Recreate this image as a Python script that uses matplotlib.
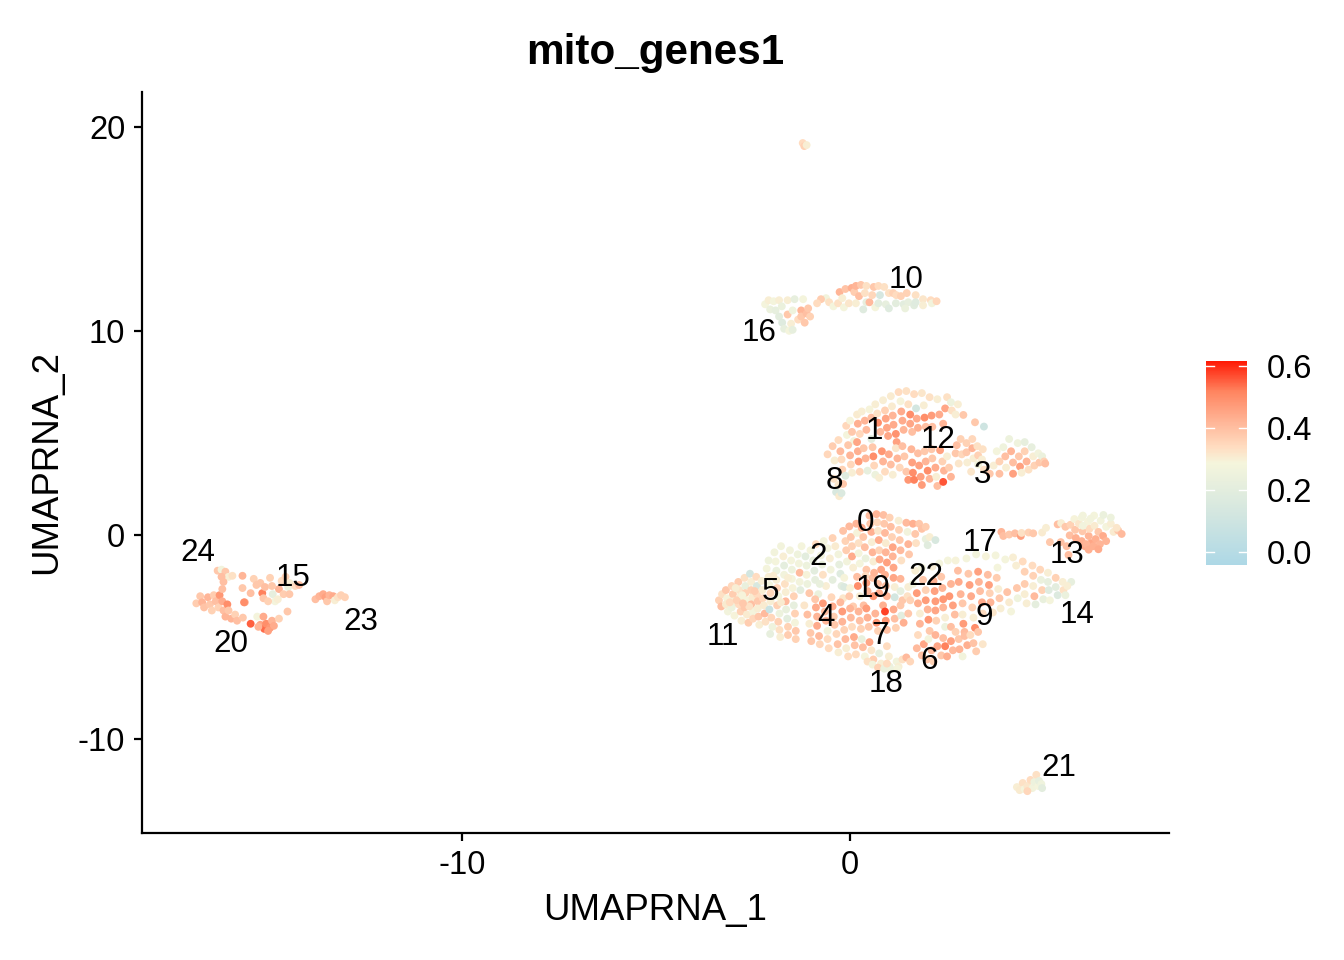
import matplotlib
matplotlib.use("Agg")
import matplotlib.pyplot as plt
from matplotlib.colors import LinearSegmentedColormap

plt.rcParams['font.family'] = ['Liberation Sans', 'DejaVu Sans']

# (UMAP1, UMAP2, value), one list per cluster region
c11 = [(-3.38,-3.2,.36),(-3.3,-2.9,.33),(-3.32,-3.5,.4),(-3.2,-2.7,.38),(-3.17,-3.1,.29),(-3.2,-3.4,.31),(-3.15,-3.75,.27),(-3.05,-2.5,.35),(-3.02,-2.9,.37),(-3.0,-3.25,.3),(-3.05,-3.55,.25),(-2.98,-3.95,.29),(-2.88,-2.3,.37),(-2.86,-2.7,.32),(-2.84,-3.05,.3),(-2.87,-3.4,.34),(-2.82,-3.75,.36),(-2.8,-4.2,.3),(-2.72,-2.1,.33),(-2.7,-2.5,.23),(-2.7,-2.85,.36),(-2.68,-3.2,.29),(-2.72,-3.55,.38),(-2.66,-3.9,.31),(-2.62,-4.3,.37),(-2.58,-1.9,.12),(-2.55,-2.3,.3),(-2.55,-2.7,.36),(-2.52,-3.05,.31),(-2.55,-3.4,.4),(-2.5,-3.75,.28),(-2.5,-4.1,.35),(-2.42,-2.05,.34),(-2.4,-2.5,.15),(-2.4,-2.9,.34),(-2.38,-3.25,.38),(-2.38,-3.6,.3),(-2.36,-4.0,.38),(-2.34,-4.4,.3),(-2.28,-2.25,.3),(-2.26,-2.7,.3),(-2.25,-3.1,.35),(-2.22,-3.45,.31),(-2.2,-3.85,.41),(-2.18,-4.25,.33),(-3.1,-3.3,.34),(-2.92,-3.2,.36),(-2.78,-2.95,.29),(-2.6,-3.5,.33),(-2.46,-2.75,.37),(-2.95,-2.6,.3),(-2.76,-3.35,.38)]
c5 = [(-2.15,-1.65,.28),(-2.1,-2.05,.3),(-2.08,-2.45,.27),(-2.05,-2.85,.35),(-2.05,-3.25,.3),(-2.08,-3.65,.08),(-2.03,-4.05,.35),(-2.0,-4.5,.26),(-2.06,-4.85,.22),(-2.1,-1.25,.26),(-1.95,-.85,.27),(-1.92,-1.3,.28),(-1.9,-1.75,.24),(-1.9,-2.2,.3),(-1.88,-2.6,.36),(-1.85,-3.0,.27),(-1.88,-3.45,.36),(-1.82,-3.85,.25),(-1.85,-4.25,.36),(-1.82,-4.65,.33),(-1.8,-5.0,.3),(-1.78,-.55,.27),(-1.72,-1.05,.3),(-1.7,-1.5,.21),(-1.7,-1.95,.27),(-1.68,-2.4,.33),(-1.66,-2.8,.3),(-1.66,-3.25,.41),(-1.65,-3.65,.23),(-1.62,-4.1,.2),(-1.6,-4.5,.36),(-1.6,-4.9,.37),(-1.55,-.75,.27),(-1.52,-1.25,.28),(-1.5,-1.7,.25),(-1.5,-2.15,.28),(-1.48,-2.6,.29),(-1.45,-3.0,.36),(-1.45,-3.45,.22),(-1.42,-3.85,.36),(-1.42,-4.3,.28),(-1.4,-4.7,.38),(-1.4,-5.1,.36),(-1.98,-2.0,.31),(-1.78,-3.3,.31),(-1.6,-2.1,.3)]
c2 = [(-1.35,-.95,.26),(-1.32,-1.4,.27),(-1.3,-1.85,.41),(-1.3,-2.3,.27),(-1.28,-2.7,.2),(-1.25,-.55,.28),(-1.15,-1.05,.2),(-1.12,-1.5,.25),(-1.12,-1.95,.29),(-1.1,-2.4,.25),(-1.05,-2.85,.38),(-1.02,-.75,.28),(-.95,-1.25,.23),(-.92,-1.75,.2),(-.9,-2.2,.22),(-.88,-.45,.34),(-.75,-1.0,.27),(-.72,-1.45,.24),(-.7,-1.95,.33),(-.68,-.3,.28),(-.58,-.65,.28),(-.52,-1.15,.3),(-.5,-1.7,.27),(-.45,-2.2,.21),(-.45,-.15,.36),(-.38,-.55,.31),(-.3,-.95,.27),(-.28,-1.45,.22),(-.25,-1.9,.18),(-.22,-2.5,.2),(-.82,-2.9,.24),(-.62,-2.5,.3),(-.78,-2.4,.23)]
c0 = [(-.18,.2,.39),(-.12,-.3,.36),(-.1,-.75,.37),(-.08,-1.3,.27),(-.02,.42,.41),(.02,-.1,.38),(.05,-.55,.36),(.05,-1.05,.44),(.08,-1.6,.3),(.16,.55,.42),(.18,.1,.29),(.22,-.4,.33),(.22,-.9,.28),(.25,-1.4,.28),(.3,.35,.44),(.34,-.1,.38),(.38,-.6,.4),(.4,-1.15,.24),(.42,-1.7,.38),(.5,.95,.4),(.52,.55,.38),(.55,.15,.43),(.56,-.35,.3),(.58,-.85,.42),(.6,-1.3,.3),(.68,1.02,.42),(.7,.62,.35),(.72,.2,.32),(.74,-.25,.44),(.75,-.75,.36),(.76,-1.2,.44),(.8,-1.7,.45),(.86,.98,.4),(.88,.55,.38),(.9,.1,.41),(.92,-.4,.31),(.92,-.85,.42),(.95,-1.35,.46),(1.02,.85,.36),(1.05,.4,.4),(1.08,-.1,.36),(1.1,-.6,.45),(1.1,-1.05,.42),(1.12,-1.6,.45),(1.25,.7,.3),(1.26,.25,.36),(1.28,-.25,.38),(1.3,-.75,.41),(1.32,-1.25,.33),(1.45,.6,.41),(1.48,.15,.27),(1.5,-.45,.42),(1.52,-.95,.38),(1.62,.55,.43),(1.68,.05,.38),(1.7,-.4,.33),(1.78,.55,.38),(1.85,.3,.39),(1.95,.4,.37),(1.95,-.2,.23),(2.05,-.1,.3),(2.2,-.25,.15),(2.0,-.5,.19)]
c19 = [(-.15,-2.1,.29),(-.15,-2.55,.16),(-.18,-3.1,.32),(.0,-2.6,.29),(-.02,-3.0,.38),(.08,-3.5,.37),(.18,-2.05,.4),(.2,-2.5,.5),(.25,-3.0,.3),(.35,-3.45,.4),(.4,-2.0,.34),(.42,-2.35,.47),(.45,-2.75,.42),(.58,-2.1,.4),(.6,-3.0,.48),(.72,-2.4,.4),(.75,-2.85,.44),(.9,-1.95,.43),(.92,-2.5,.4),(.95,-3.0,.42),(1.12,-2.1,.45),(1.15,-2.55,.3),(1.15,-3.05,.12),(1.3,-2.15,.42),(1.3,-2.75,.22),(1.35,-3.2,.38),(1.5,-2.55,.3),(1.48,-3.0,.33),(.62,-1.85,.42),(.85,-3.45,.43)]
c4 = [(-1.18,-3.45,.32),(-1.1,-3.9,.4),(-1.05,-4.35,.3),(-1.02,-4.8,.38),(-1.0,-5.2,.38),(-.9,-3.15,.38),(-.88,-3.55,.44),(-.85,-4.0,.42),(-.85,-4.45,.44),(-.8,-4.95,.41),(-.78,-5.35,.35),(-.7,-3.35,.47),(-.65,-3.75,.4),(-.62,-4.2,.42),(-.58,-4.7,.27),(-.58,-5.1,.34),(-.55,-5.55,.34),(-.48,-3.05,.35),(-.45,-3.5,.44),(-.42,-4.0,.37),(-.4,-4.4,.38),(-.35,-4.85,.35),(-.32,-5.35,.39),(-.3,-5.75,.3),(-.25,-3.3,.41),(-.2,-3.75,.47),(-.2,-4.25,.42),(-.15,-4.65,.36),(-.12,-5.1,.41),(-.1,-5.55,.3),(-.05,-5.95,.34),(.0,-3.6,.42),(.02,-4.05,.41),(.05,-4.5,.34),(.1,-5.0,.44),(.12,-5.4,.39),(.15,-5.85,.34)]
c7 = [(.22,-3.75,.42),(.25,-4.2,.4),(.28,-4.6,.36),(.3,-5.1,.23),(.33,-5.5,.4),(.38,-5.95,.28),(.42,-3.6,.47),(.45,-4.05,.43),(.48,-4.5,.38),(.5,-5.25,.45),(.55,-5.65,.32),(.6,-6.1,.37),(.65,-3.85,.42),(.68,-4.3,.48),(.72,-4.7,.36),(.75,-5.8,.22),(.8,-6.3,.3),(.9,-3.75,.58),(.92,-4.2,.48),(.95,-4.65,.4),(.95,-5.45,.34),(1.0,-5.95,.3),(1.02,-6.45,.24),(1.12,-3.65,.44),(1.15,-4.1,.4),(1.18,-4.55,.36),(1.2,-6.2,.27),(1.25,-6.45,.3),(1.3,-3.45,.38),(1.32,-3.95,.2),(1.38,-4.3,.43),(1.35,-6.1,.33),(1.45,-6.0,.41),(1.5,-3.85,.38),(1.55,-6.2,.35)]
c22 = [(1.55,-3.2,.36),(1.62,-2.4,.27),(1.68,-1.75,.3),(1.72,-2.85,.47),(1.75,-3.35,.43),(1.8,-3.85,.3),(1.8,-4.35,.42),(1.85,-1.6,.28),(1.88,-2.2,.38),(1.95,-2.7,.36),(1.95,-3.2,.47),(2.0,-3.65,.42),(2.02,-4.15,.48),(2.05,-4.7,.38),(2.12,-1.55,.3),(2.15,-2.25,.43),(2.18,-2.75,.46),(2.2,-3.25,.47),(2.2,-3.7,.45),(2.22,-4.2,.36),(2.3,-1.4,.28),(2.35,-2.05,.38),(2.38,-2.6,.42),(2.4,-3.15,.48),(2.4,-3.55,.42),(2.45,-4.05,.3),(2.45,-4.5,.25),(2.52,-1.25,.28),(2.56,-3.0,.48),(2.6,-2.4,.42),(2.65,-3.45,.46),(2.7,-3.9,.4)]
c9 = [(2.72,-1.25,.29),(2.78,-1.75,.4),(2.8,-2.3,.44),(2.85,-2.9,.42),(2.9,-3.35,.38),(2.9,-3.9,.3),(2.92,-4.35,.47),(2.95,-4.75,.41),(3.0,-1.15,.28),(3.05,-1.9,.38),(3.08,-2.45,.46),(3.12,-3.0,.44),(3.15,-3.55,.36),(3.18,-4.05,.3),(3.22,-4.55,.5),(3.25,-.95,.27),(3.3,-1.8,.46),(3.32,-2.3,.42),(3.35,-2.75,.4),(3.4,-3.3,.44),(3.42,-3.85,.34),(3.5,-1.05,.29),(3.55,-1.95,.4),(3.58,-2.45,.46),(3.6,-2.85,.36),(3.62,-3.3,.42),(3.68,-3.8,.32),(3.75,-1.0,.28),(3.8,-1.6,.28),(3.78,-2.1,.37),(3.82,-2.65,.3),(3.85,-3.1,.38),(3.88,-3.6,.3),(4.0,-1.2,.28),(4.05,-2.8,.39),(4.1,-3.3,.31),(4.15,-3.75,.28)]
c14 = [(4.2,-1.1,.3),(4.28,-1.5,.3),(4.3,-2.6,.38),(4.32,-3.1,.26),(4.45,-1.3,.34),(4.5,-1.8,.36),(4.5,-2.4,.37),(4.5,-2.9,.3),(4.55,-3.35,.3),(4.7,-1.5,.34),(4.72,-2.0,.36),(4.72,-2.5,.3),(4.75,-3.0,.41),(4.78,-3.4,.21),(4.9,-1.7,.35),(4.92,-2.2,.24),(4.95,-2.7,.36),(4.98,-3.15,.23),(5.1,-1.85,.3),(5.1,-2.3,.22),(5.12,-2.7,.18),(5.15,-3.2,.28),(5.3,-2.1,.36),(5.3,-2.55,.2),(5.35,-2.95,.17),(5.48,-2.3,.3),(5.5,-2.7,.33),(5.55,-2.95,.24),(5.7,-2.3,.22),(5.6,-2.5,.3)]
c17 = [(3.9,.15,.42),(3.95,-.05,.4),(4.1,.02,.38),(4.25,.08,.4),(4.4,-.05,.46),(4.42,.1,.33),(4.6,.12,.36),(4.72,.08,.38),(4.95,.12,.31),(5.15,-.35,.38),(5.05,.35,.3)]
c13 = [(5.35,.52,.4),(5.44,.58,.3),(5.43,-.35,.4),(5.55,.4,.38),(5.58,-.55,.4),(5.66,-.02,.4),(5.68,.5,.36),(5.78,.78,.29),(5.82,-.15,.43),(5.8,.25,.38),(5.9,.55,.32),(5.97,.85,.28),(5.97,-.3,.43),(5.99,.18,.38),(6.05,-.55,.44),(6.13,.65,.29),(6.15,-.05,.42),(6.17,.3,.34),(6.21,-.4,.45),(6.29,.95,.28),(6.3,.45,.31),(6.33,-.2,.43),(6.4,.15,.38),(6.44,-.45,.42),(6.46,.7,.27),(6.52,-.05,.44),(6.6,.4,.28),(6.53,.98,.24),(6.72,.55,.3),(6.79,.15,.31),(6.91,.22,.38),(7.0,.05,.41),(6.87,.35,.32),(6.09,-.45,.42),(6.27,-.55,.43),(5.63,-.98,.4),(6.0,.95,.27),(6.2,.8,.27),(6.4,-.7,.44),(6.6,-.3,.42),(6.15,-.72,.43),(6.72,.85,.25),(6.0,.45,.27)]
c6 = [(1.72,-5.55,.41),(1.75,-4.9,.34),(1.85,-5.9,.4),(1.9,-5.35,.45),(1.98,-6.1,.38),(2.02,-5.1,.28),(2.1,-5.65,.41),(2.15,-6.2,.36),(2.2,-4.9,.42),(2.25,-5.45,.45),(2.35,-5.9,.38),(2.4,-5.05,.4),(2.45,-5.45,.52),(2.5,-5.95,.43),(2.6,-4.5,.4),(2.6,-5.2,.46),(2.65,-5.65,.41),(2.72,-4.75,.36),(2.8,-5.1,.38),(2.82,-5.6,.42),(2.9,-5.95,.27),(2.95,-4.95,.4),(3.02,-5.4,.43),(3.1,-4.9,.34),(3.18,-5.3,.39),(3.25,-5.7,.37),(3.3,-4.75,.38),(3.42,-5.35,.32)]
c18 = [(.45,-6.2,.33),(.58,-6.35,.27),(.72,-6.5,.36),(.88,-6.55,.24),(1.05,-6.6,.25),(1.22,-6.55,.28),(.95,-6.3,.34)]
c1 = [(-.1,5.35,.35),(-.08,4.9,.28),(.0,5.6,.29),(.05,5.05,.38),(.1,4.6,.27),(.18,5.9,.31),(.2,5.45,.43),(.25,4.95,.35),(.3,6.05,.3),(.38,5.6,.42),(.42,5.15,.41),(.5,6.15,.29),(.55,5.75,.4),(.55,4.7,.2),(.65,6.4,.3),(.7,5.95,.33),(.72,5.5,.5),(.78,5.05,.41),(.85,6.6,.3),(.9,6.1,.36),(.92,5.7,.45),(.95,5.25,.45),(.98,4.85,.45),(1.05,6.8,.31),(1.08,6.3,.31),(1.1,5.85,.42),(1.12,5.4,.44),(1.18,4.95,.49),(1.2,4.55,.46),(1.25,7.0,.34),(1.3,6.55,.29),(1.32,6.05,.44),(1.35,5.6,.44),(1.38,5.15,.42),(1.45,7.05,.33),(1.5,6.4,.33),(1.55,5.9,.5),(1.55,5.45,.45),(1.6,5.05,.4),(1.65,6.9,.34),(1.7,6.2,.12),(1.72,5.7,.44),(1.75,5.25,.43),(1.85,6.95,.32),(1.9,6.35,.3),(1.92,5.75,.5),(1.95,5.3,.4),(2.05,6.75,.33),(2.1,5.85,.47),(2.12,5.3,.4),(2.25,6.65,.3),(2.3,5.9,.44),(2.4,5.45,.42)]
c12 = [(2.5,6.75,.33),(2.45,6.2,.45),(2.6,6.5,.25),(2.78,6.4,.3),(2.62,6.1,.33),(2.72,5.9,.3),(2.92,5.88,.38),(3.22,5.52,.38),(3.45,5.31,.1),(2.75,4.4,.4),(2.72,4.0,.38),(2.8,3.5,.32),(2.85,4.7,.36),(2.88,3.95,.35),(3.0,4.5,.36),(3.0,4.05,.38),(3.02,3.55,.3),(3.12,3.1,.32),(3.15,4.7,.35),(3.15,4.25,.42),(3.18,3.75,.3),(3.28,4.35,.33),(3.3,3.9,.36),(3.3,3.45,.27),(3.42,4.2,.33),(3.4,3.7,.3),(3.45,3.2,.33)]
c8 = [(-.58,3.95,.35),(-.45,4.35,.37),(-.4,3.65,.3),(-.3,4.65,.34),(-.25,4.1,.41),(-.22,3.7,.34),(-.2,3.2,.36),(-.05,4.4,.38),(.0,3.9,.42),(.02,3.45,.35),(.05,3.05,.3),(-.42,2.75,.33),(-.3,2.45,.32),(-.18,2.5,.38),(-.36,2.1,.15),(-.28,1.9,.31),(-.22,2.05,.16),(-.12,2.9,.18),(.18,4.55,.45),(.2,4.1,.43),(.22,3.6,.47),(.25,3.1,.35),(.35,4.25,.38),(.4,3.75,.42),(.45,3.15,.22),(.58,4.3,.38),(.6,3.85,.5),(.62,3.4,.35),(.65,2.95,.25),(.75,2.8,.3)]
c3 = [(.82,4.1,.48),(.85,3.6,.42),(.9,3.1,.34),(1.0,3.95,.44),(1.05,3.45,.4),(1.1,2.95,.3),(1.18,4.25,.32),(1.22,3.75,.42),(1.28,3.3,.35),(1.35,4.35,.4),(1.4,3.85,.38),(1.45,3.1,.38),(1.5,2.7,.48),(1.58,4.2,.42),(1.6,3.55,.46),(1.62,3.05,.5),(1.65,2.7,.52),(1.75,4.0,.4),(1.78,3.4,.46),(1.82,2.85,.46),(1.85,2.45,.47),(1.92,4.1,.38),(1.95,3.6,.42),(2.0,3.15,.5),(2.05,2.75,.42),(2.1,4.2,.38),(2.12,3.75,.38),(2.2,3.3,.44),(2.22,2.85,.3),(2.25,2.4,.4),(2.32,4.15,.46),(2.38,3.6,.36),(2.42,3.15,.42),(2.5,3.85,.3),(2.55,3.3,.37),(2.4,2.6,.56),(2.6,2.85,.42),(3.6,3.0,.38),(3.78,4.1,.28),(3.7,3.4,.3),(3.85,3.6,.36),(3.85,3.0,.4),(3.95,4.3,.26),(4.0,3.85,.4),(4.02,3.3,.3),(4.1,4.7,.25),(4.15,4.1,.42),(4.2,3.55,.4),(4.2,3.0,.46),(4.32,4.5,.26),(4.35,3.85,.38),(4.38,3.35,.46),(4.42,3.05,.3),(4.5,4.55,.22),(4.5,4.1,.36),(4.55,3.6,.42),(4.6,3.2,.33),(4.68,4.3,.22),(4.72,3.85,.3),(4.75,3.4,.36),(4.85,4.0,.27),(4.88,3.55,.38),(4.95,3.85,.24),(5.0,3.6,.36),(5.03,3.5,.4)]
c10 = [(-.62,11.6,.27),(-.54,11.4,.33),(-.43,11.2,.28),(-.31,11.35,.33),(-.27,11.9,.42),(-.2,11.6,.3),(-.16,11.15,.28),(-.12,12.05,.39),(-.03,11.35,.32),(.04,12.1,.43),(.11,11.9,.37),(.15,12.2,.42),(.15,11.35,.3),(.23,11.7,.4),(.28,12.25,.38),(.34,11.05,.18),(.38,11.85,.33),(.42,12.2,.33),(.42,11.4,.22),(.5,11.4,.41),(.57,11.75,.35),(.61,12.15,.38),(.65,11.15,.28),(.73,11.35,.2),(.73,12.2,.34),(.77,11.75,.14),(.88,12.15,.33),(.92,11.3,.22),(1.0,11.85,.33),(1.0,11.1,.18),(1.11,11.85,.36),(1.18,11.35,.2),(1.19,11.75,.34),(1.31,11.7,.36),(1.38,11.3,.2),(1.46,11.85,.36),(1.5,11.4,.22),(1.65,11.25,.19),(1.69,11.75,.33),(1.69,11.4,.18),(1.88,11.55,.32),(1.88,11.25,.3),(2.08,11.5,.34),(2.11,11.35,.27),(2.23,11.45,.35),(1.42,11.1,.24),(-.75,11.55,.37),(-.85,11.35,.34)]
c16 = [(-2.19,11.3,.28),(-2.1,11.5,.3),(-2.06,11.05,.24),(-1.97,11.45,.28),(-1.92,11.0,.22),(-1.83,10.7,.2),(-1.83,11.5,.3),(-1.76,11.2,.24),(-1.75,10.4,.18),(-1.7,10.1,.22),(-1.61,10.8,.38),(-1.61,11.5,.3),(-1.57,10.0,.28),(-1.52,10.35,.3),(-1.48,10.05,.22),(-1.48,11.0,.26),(-1.43,11.55,.22),(-1.34,10.55,.34),(-1.26,11.0,.42),(-1.26,10.7,.38),(-1.21,11.55,.28),(-1.17,10.4,.38),(-1.12,10.85,.4),(-1.08,11.1,.38),(-1.03,10.7,.36)]
c21 = [(4.3,-12.35,.3),(4.37,-12.5,.31),(4.45,-12.15,.33),(4.5,-12.45,.28),(4.57,-12.3,.32),(4.65,-12.0,.34),(4.7,-12.4,.27),(4.75,-12.1,.25),(4.8,-11.75,.33),(4.85,-12.3,.28),(4.87,-12.05,.22),(4.93,-12.2,.26),(4.95,-12.4,.2),(4.57,-12.55,.35)]
c_top = [(-1.22,19.2,.34),(-1.18,19.05,.36),(-1.12,19.1,.3)]
c20 = [(-16.85,-3.35,.37),(-16.75,-3.0,.38),(-16.7,-3.3,.42),(-16.65,-3.55,.39),(-16.55,-3.05,.42),(-16.5,-3.4,.38),(-16.45,-3.7,.36),(-16.4,-2.95,.37),(-16.35,-3.25,.4),(-16.28,-3.55,.36),(-16.25,-2.95,.48),(-16.18,-3.25,.44),(-16.15,-3.7,.4),(-16.1,-4.0,.42),(-16.05,-3.4,.5),(-16.02,-3.7,.38),(-15.95,-4.1,.42),(-15.85,-3.9,.36),(-15.8,-4.2,.4),(-15.65,-4.05,.38),(-15.45,-4.35,.55),(-15.6,-3.3,.43),(-15.28,-4.0,.28),(-15.12,-4.0,.44),(-15.2,-4.4,.45),(-15.1,-4.6,.54),(-15.05,-4.35,.5),(-14.95,-4.55,.48),(-14.9,-4.2,.42),(-14.85,-4.45,.44),(-15.25,-4.5,.42),(-14.72,-4.1,.36),(-14.5,-3.75,.38),(-15.0,-4.7,.46)]
c24 = [(-16.3,-1.75,.38),(-16.2,-1.7,.27),(-16.1,-1.8,.38),(-16.02,-2.05,.3),(-16.2,-2.05,.4),(-16.15,-2.3,.4),(-16.18,-2.65,.4),(-15.92,-2.0,.33)]
c15 = [(-15.66,-2.0,.42),(-15.66,-2.6,.38),(-15.45,-2.85,.4),(-15.62,-3.3,.5),(-15.37,-2.15,.36),(-15.3,-2.45,.38),(-15.2,-2.35,.38),(-15.15,-2.85,.52),(-15.12,-3.1,.38),(-15.08,-2.55,.4),(-14.95,-2.1,.36),(-14.9,-2.5,.38),(-14.88,-2.9,.22),(-14.82,-3.25,.28),(-14.75,-3.15,.3),(-14.72,-2.65,.42),(-14.65,-2.25,.34),(-14.6,-2.9,.37),(-14.55,-2.05,.36),(-14.48,-2.55,.24),(-14.45,-2.35,.3),(-14.3,-2.5,.34),(-14.2,-2.45,.4),(-15.0,-3.25,.36),(-14.45,-2.9,.38)]
c23 = [(-13.78,-3.15,.4),(-13.68,-3.0,.42),(-13.58,-2.9,.44),(-13.52,-3.05,.46),(-13.48,-3.25,.38),(-13.42,-2.95,.42),(-13.32,-3.0,.44),(-13.28,-3.2,.3),(-13.2,-3.05,.33),(-13.12,-2.95,.36),(-13.02,-3.05,.36)]
clusters = [c11, c5, c2, c0, c19, c4, c7, c22, c9, c14, c17, c13, c6, c18, c1, c12, c8, c3, c10, c16, c21, c_top, c20, c24, c15, c23]

cluster_ids = ["10","16","1","12","3","8","0","17","13","2","22","19","5","4","9","14","7","11","6","18","21","24","15","23","20"]
id_x = [1.44,-2.35,.62,2.27,3.4,-.41,.41,3.35,5.59,-.82,1.96,.59,-2.04,-.62,3.45,5.85,.77,-3.27,2.04,.93,5.39,-16.8,-14.36,-12.6,-15.95]
id_y = [12.65,10.05,5.25,4.8,3.09,2.79,.74,-.25,-.83,-.93,-1.91,-2.5,-2.65,-3.92,-3.87,-3.77,-4.8,-4.85,-6.03,-7.16,-11.27,-.74,-1.96,-4.12,-5.2]

x_ticks = [-10, 0]
y_ticks = [-10, 0, 10, 20]
bar_ticks = [0.0, 0.2, 0.4, 0.6]

cmap = LinearSegmentedColormap.from_list("feat", [(0, "#ADD8E6"), (.25, "#D3E6E0"), (.5, "#F5F5DC"), (.58, "#FFDCC0"), (.7, "#FFB698"), (.85, "#FF8560"), (1, "#FF1A05")])

fig = plt.figure(figsize=(6.72, 4.8), dpi=200)
ax = fig.add_axes([142/1344, 1-833/960, 1027/1344, 741/960])
xs = [p[0] for c in clusters for p in c]
ys = [p[1] for c in clusters for p in c]
vs = [p[2] for c in clusters for p in c]
sc = ax.scatter(xs, ys, c=vs, s=8, cmap=cmap, vmin=-0.042, vmax=0.616, linewidths=0)
ax.set_xlim(-18.25, 8.22)
ax.set_ylim(-14.6, 21.7)
for s in ("top", "right"):
    ax.spines[s].set_visible(False)
for s in ("left", "bottom"):
    ax.spines[s].set_linewidth(0.8)
ax.set_xticks(x_ticks, [str(t) for t in x_ticks])
ax.set_yticks(y_ticks, [str(t) for t in y_ticks])
ax.tick_params(labelsize=11.8, length=3, width=0.8, pad=3)
ax.set_xlabel("UMAPRNA_1", fontsize=13.2, labelpad=4.5)
ax.set_ylabel("UMAPRNA_2", fontsize=13.2, labelpad=5)
ax.set_title("mito_genes1", fontsize=15.2, fontweight="bold", pad=10)
for t, x, y in zip(cluster_ids, id_x, id_y):
    ax.annotate(t, (x, y), xytext=(0, -1), textcoords="offset points", fontsize=11.3, ha="center", va="center", color="black")

cax = fig.add_axes([1206/1344, 1-565/960, 41/1344, 204/960])
cb = fig.colorbar(sc, cax=cax)
cb.outline.set_visible(False)
cb.set_ticks(bar_ticks, labels=[f"{t:.1f}" for t in bar_ticks])
cax.tick_params(length=0, labelsize=11.8, pad=7)
for t in bar_ticks:
    cax.plot([0, .2], [t, t], color="white", lw=.5)
    cax.plot([.8, 1], [t, t], color="white", lw=.5)
cax.set_xlim(0, 1)
fig.savefig("out.png", dpi=200)
